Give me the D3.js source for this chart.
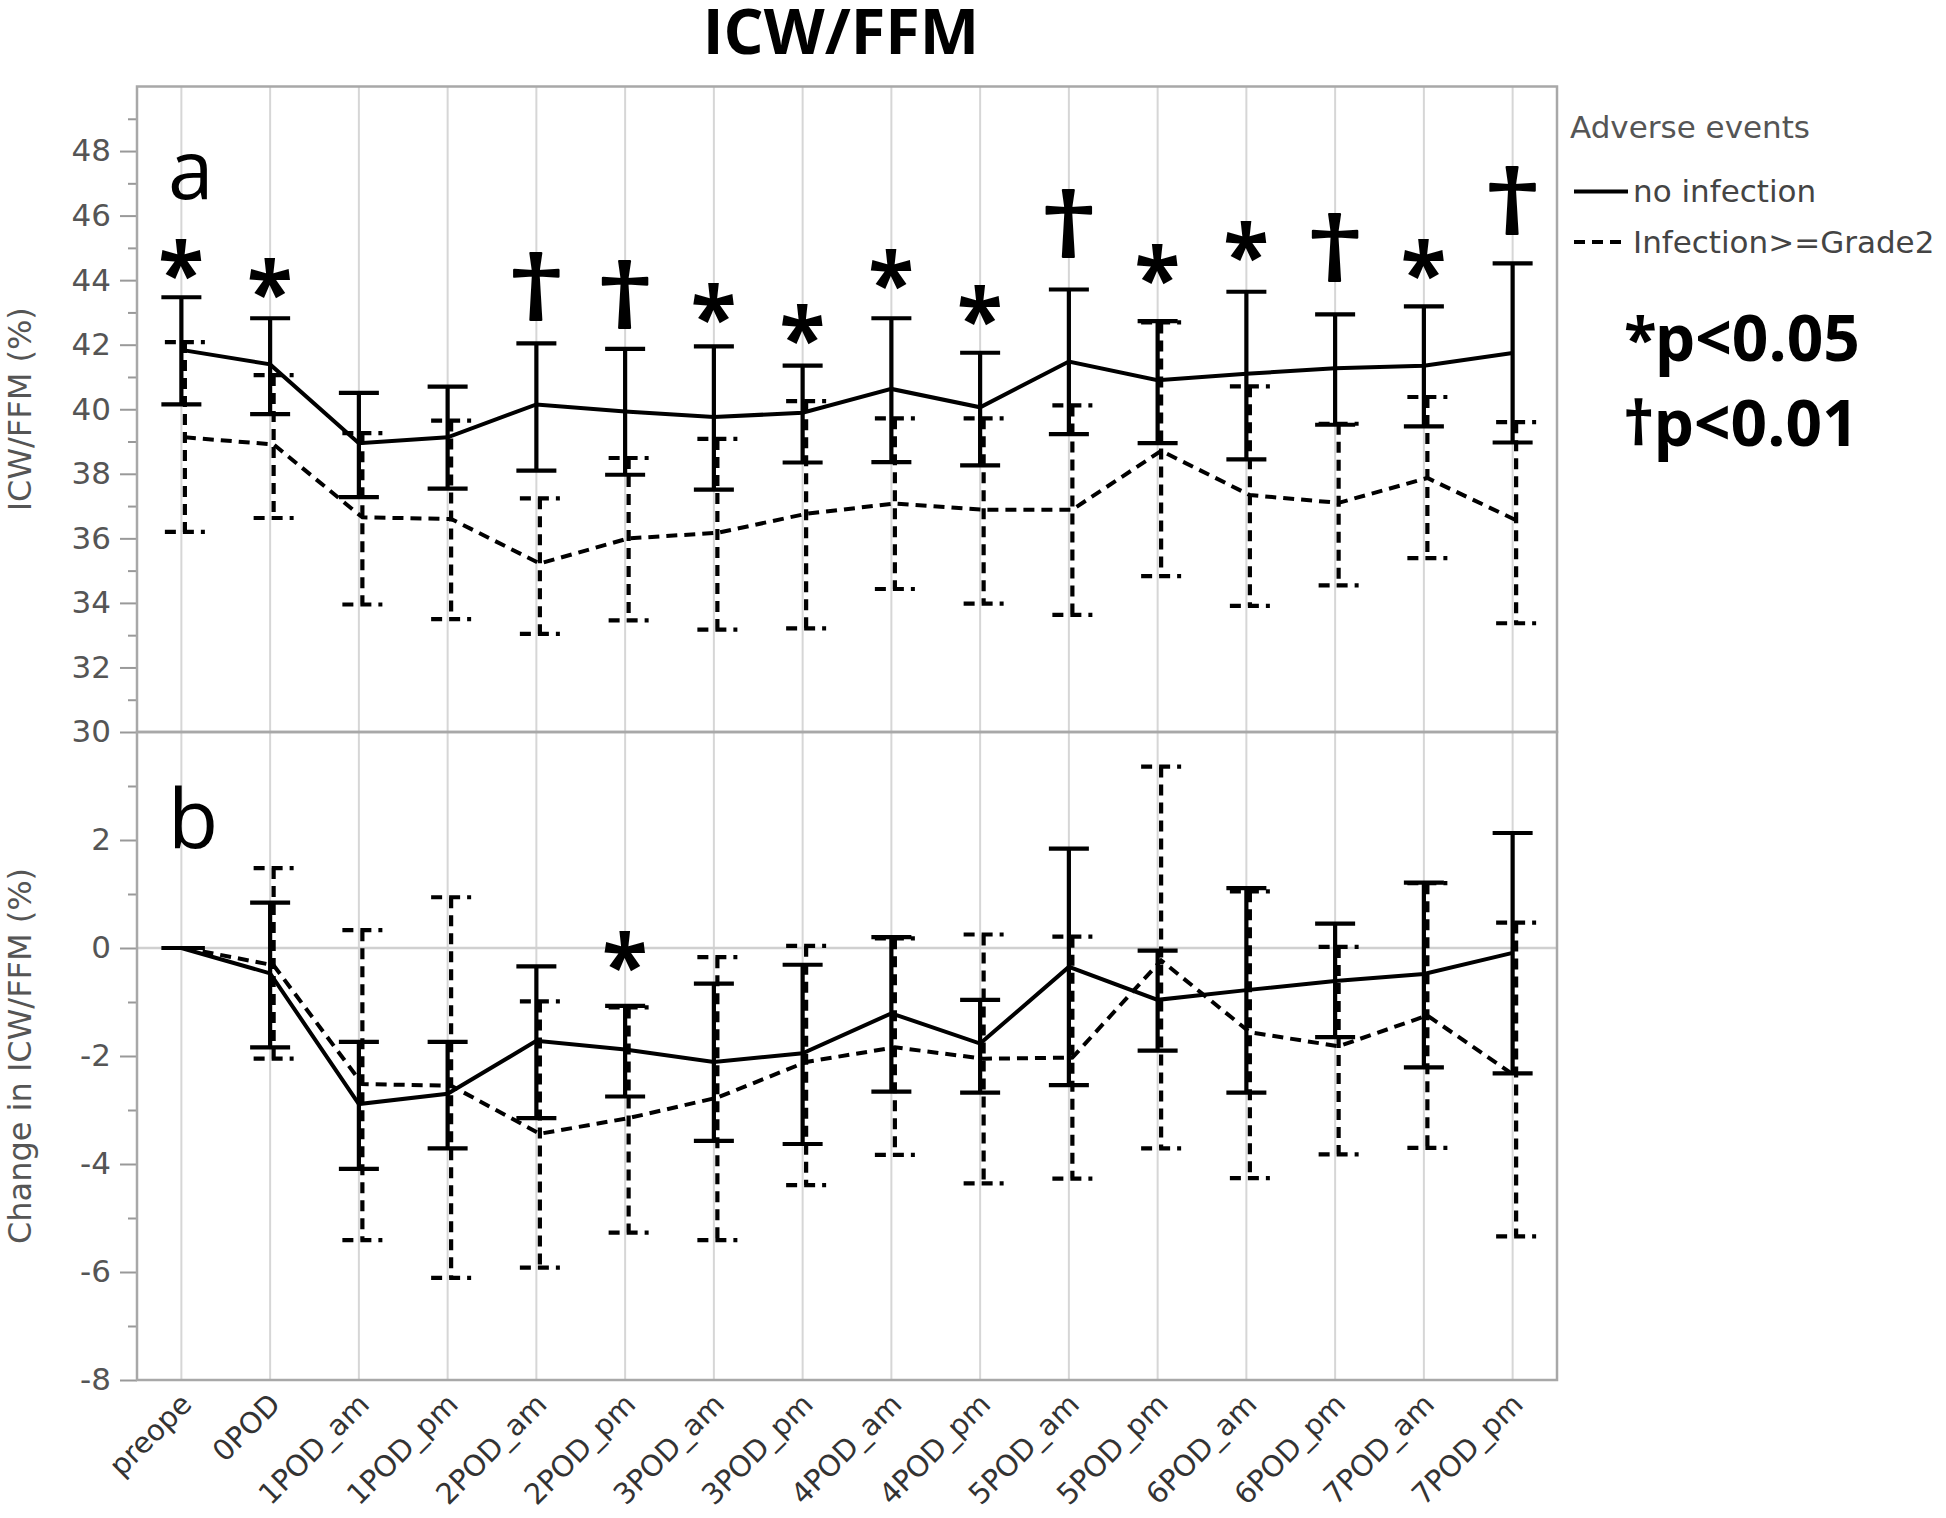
<!DOCTYPE html>
<html><head><meta charset="utf-8">
<script src="https://cdnjs.cloudflare.com/ajax/libs/d3/7.8.5/d3.min.js"></script>
<style>body{margin:0;background:#fff;} svg{display:block;}</style>
</head><body>
<svg id="chart" width="1946" height="1518"></svg>
<script>
// ---------- DATA ----------
const categories = ["preope","0POD","1POD_am","1POD_pm","2POD_am","2POD_pm","3POD_am","3POD_pm",
                    "4POD_am","4POD_pm","5POD_am","5POD_pm","6POD_am","6POD_pm","7POD_am","7POD_pm"];
const seriesNames = ["no infection","Infection>=Grade2"];

// Panel a: ICW/FFM (%)
const aNoInfMean = [41.84,41.39,38.95,39.13,40.15,39.93,39.76,39.89,40.63,40.06,41.48,40.90,41.10,41.27,41.35,41.74];
const aNoInfHigh = [43.47,42.82,40.51,40.70,42.04,41.87,41.95,41.35,42.82,41.75,43.71,42.73,43.64,42.94,43.19,44.52];
const aNoInfLow  = [40.15,39.85,37.28,37.54,38.10,37.97,37.51,38.35,38.36,38.26,39.23,38.95,38.45,39.52,39.47,38.97];
const aInfMean   = [39.13,38.91,36.65,36.60,35.22,36.00,36.17,36.76,37.08,36.89,36.89,38.71,37.34,37.10,37.87,36.56];
const aInfHigh   = [42.08,41.06,39.26,39.65,37.24,38.49,39.08,40.25,39.72,39.72,40.12,42.69,40.71,39.55,40.38,39.60];
const aInfLow    = [36.20,36.63,33.95,33.50,33.04,33.46,33.17,33.21,34.43,33.98,33.63,34.83,33.91,34.54,35.39,33.37];

// Panel b: Change in ICW/FFM (%)
const bNoInfMean = [0,-0.47,-2.89,-2.70,-1.72,-1.88,-2.11,-1.95,-1.21,-1.77,-0.35,-0.96,-0.78,-0.61,-0.48,-0.09];
const bNoInfHigh = [0, 0.84,-1.74,-1.74,-0.34,-1.07,-0.66,-0.31, 0.20,-0.96, 1.84,-0.05, 1.11, 0.45, 1.21, 2.13];
const bNoInfLow  = [0,-1.84,-4.09,-3.71,-3.15,-2.75,-3.57,-3.63,-2.66,-2.68,-2.54,-1.90,-2.68,-1.65,-2.21,-2.32];
const bInfMean   = [0,-0.32,-2.52,-2.55,-3.44,-3.15,-2.77,-2.11,-1.84,-2.05,-2.03,-0.23,-1.56,-1.82,-1.25,-2.38];
const bInfHigh   = [0, 1.48, 0.33, 0.94,-0.99,-1.10,-0.17, 0.04, 0.18, 0.25, 0.21, 3.36, 1.05, 0.02, 1.20, 0.47];
const bInfLow    = [0,-2.05,-5.41,-6.11,-5.92,-5.27,-5.41,-4.39,-3.83,-4.36,-4.27,-3.71,-4.26,-3.82,-3.70,-5.34];

// significance marks (symbol, value at the bottom of the mark)
const aSigMark = ["*","*","","","†","†","*","*","*","*","†","*","*","†","*","†"];
const aSigPos  = [44.0,43.42,null,null,42.77,42.52,42.64,41.99,43.68,42.58,44.72,43.85,44.56,43.97,44.0,45.44];
const bSigMark = ["","","","","","*","","","","","","","","","",""];
const bSigPos  = [null,null,null,null,null,-0.45,null,null,null,null,null,null,null,null,null,null];
const pLegend  = [["*","p<0.05"],["†","p<0.01"]];

const aTicks = [30,32,34,36,38,40,42,44,46,48];
const aMinor = [31,33,35,37,39,41,43,45,47,49];
const bTicks = [-8,-6,-4,-2,0,2];
const bMinor = [-7,-5,-3,-1,1,3];

// ---------- LAYOUT ----------
const svg = d3.select("#chart");
const L = 137, R = 1557;
const aTop = 86.5, mid = 732, bBot = 1380;
const grey = "#555";
const x = d3.scalePoint().domain(categories).range([L, R]).padding(0.5);
const yA = d3.scaleLinear().domain([30, 50]).range([mid, aTop]);
const yB = d3.scaleLinear().domain([-8, 4]).range([bBot, mid]);

// glyph ink measurement (canvas) to place symbols by their ink box
const ctx = document.createElement("canvas").getContext("2d");
function ink(ch, font) {
  ctx.font = `${font.weight} 100px "${font.family}"`;
  const m = ctx.measureText(ch);
  return { w: m.actualBoundingBoxLeft + m.actualBoundingBoxRight, left: m.actualBoundingBoxLeft,
           h: m.actualBoundingBoxAscent + m.actualBoundingBoxDescent, asc: m.actualBoundingBoxAscent };
}
function glyph(parent, ch, font, cx, bottom, w, h, sw) {
  const m = ink(ch, font);
  const sx = w / m.w, sy = h / m.h;
  const tx = cx - w / 2 + m.left * sx, ty = bottom - h + m.asc * sy;
  parent.append("text").attr("transform", `translate(${tx},${ty}) scale(${sx},${sy})`)
    .style("font-family", font.family).style("font-weight", font.weight).style("font-size", "100px")
    .attr("fill", "#000").attr("stroke", sw ? "#000" : null).attr("stroke-width", sw ? sw / sx : null)
    .attr("stroke-linejoin", "round")
    .text(ch);
}
const STAR_FONT = { family: "Open Sans", weight: 700 };
const DAG_FONT = { family: "Open Sans", weight: 400 };

// gridlines
svg.append("g").selectAll("line").data(categories).join("line")
  .attr("x1", d => x(d)).attr("x2", d => x(d)).attr("y1", aTop).attr("y2", bBot)
  .attr("stroke", "#d6d6d6").attr("stroke-width", 2);
svg.append("line").attr("x1", L).attr("x2", R).attr("y1", yB(0)).attr("y2", yB(0))
  .attr("stroke", "#d0d0d0").attr("stroke-width", 2.5);

// axes
const fmt = d => (d < 0 ? "-" + Math.abs(d) : String(d));
function yAxis(scale, ticks, minor) {
  const g = svg.append("g").attr("transform", `translate(${L},0)`);
  g.call(d3.axisLeft(scale).tickValues(ticks).tickSize(17).tickPadding(9).tickFormat(fmt));
  g.select(".domain").remove();
  g.selectAll(".tick line").attr("stroke", "#999").attr("stroke-width", 2);
  g.selectAll(".tick text").attr("fill", grey).style("font-family", "DejaVu Sans").style("font-size", "31px");
  const gm = svg.append("g").attr("transform", `translate(${L},0)`);
  gm.call(d3.axisLeft(scale).tickValues(minor).tickSize(9).tickFormat(""));
  gm.select(".domain").remove();
  gm.selectAll(".tick line").attr("stroke", "#999").attr("stroke-width", 2);
}
yAxis(yA, aTicks, aMinor);
yAxis(yB, bTicks, bMinor);

// frames
svg.append("rect").attr("x", L).attr("y", aTop).attr("width", R - L).attr("height", mid - aTop)
  .attr("fill", "none").attr("stroke", "#a8a8a8").attr("stroke-width", 2.5);
svg.append("rect").attr("x", L).attr("y", mid).attr("width", R - L).attr("height", bBot - mid)
  .attr("fill", "none").attr("stroke", "#a8a8a8").attr("stroke-width", 2.5);

// series drawing
const DASH = "11,7";
function drawSeries(y, mean, low, high, dashed) {
  const off = dashed ? 3.5 : 0;
  const hw = 20;
  const g = svg.append("g");
  const style = sel => sel.attr("fill", "none").attr("stroke", "#000")
    .attr("stroke-dasharray", dashed ? DASH : null);
  g.selectAll("path.eb").data(categories).join("path").attr("class", "eb")
    .attr("d", (c, i) => {
      const cx = x(c) + off, yh = y(high[i]), yl = y(low[i]);
      return `M${cx - hw},${yh}H${cx + hw}M${cx},${yh}V${yl}M${cx - hw},${yl}H${cx + hw}`;
    })
    .call(style).attr("stroke-width", 4.2);
  const line = d3.line().x((d, i) => x(categories[i]) + off).y(d => y(d));
  g.append("path").datum(mean).attr("d", line).call(style).attr("stroke-width", 4);
}
drawSeries(yA, aInfMean, aInfLow, aInfHigh, true);
drawSeries(yA, aNoInfMean, aNoInfLow, aNoInfHigh, false);
drawSeries(yB, bInfMean, bInfLow, bInfHigh, true);
drawSeries(yB, bNoInfMean, bNoInfLow, bNoInfHigh, false);

// significance marks
function drawMarks(y, marks, pos) {
  const g = svg.append("g");
  categories.forEach((c, i) => {
    if (!marks[i]) return;
    if (marks[i] === "*") glyph(g, "*", STAR_FONT, x(c), y(pos[i]), 41, 41, 0);
    else glyph(g, "†", DAG_FONT, x(c), y(pos[i]), 45, 68, 2.5);
  });
}
drawMarks(yA, aSigMark, aSigPos);
drawMarks(yB, bSigMark, bSigPos);

// panel letters
svg.append("text").attr("x", 168).attr("y", 199).text("a")
  .style("font-family", "Open Sans").style("font-size", "82px").attr("fill", "#000");
svg.append("text").attr("x", 168).attr("y", 848).text("b")
  .style("font-family", "Open Sans").style("font-size", "82px").attr("fill", "#000");

// x labels
svg.append("g").selectAll("text").data(categories).join("text")
  .attr("transform", d => `translate(${x(d) + 12},${bBot + 26}) rotate(-45)`)
  .attr("text-anchor", "end").attr("fill", "#333")
  .style("font-family", "DejaVu Sans").style("font-size", "29px").text(d => d);

// y titles
svg.append("text").attr("transform", `translate(31,${(aTop + mid) / 2}) rotate(-90)`)
  .attr("text-anchor", "middle").attr("fill", grey)
  .style("font-family", "DejaVu Sans").style("font-size", "32px").text("ICW/FFM (%)");
svg.append("text").attr("transform", `translate(31,${(mid + bBot) / 2}) rotate(-90)`)
  .attr("text-anchor", "middle").attr("fill", grey)
  .style("font-family", "DejaVu Sans").style("font-size", "32px").text("Change in ICW/FFM (%)");

// title
svg.append("text").attr("x", 841).attr("y", 54).attr("text-anchor", "middle")
  .style("font-family", "Open Sans").style("font-weight", 700).style("font-size", "63px").text("ICW/FFM");

// legend
const lg = svg.append("g");
lg.append("text").attr("x", 1570).attr("y", 138).attr("fill", grey)
  .style("font-family", "DejaVu Sans").style("font-size", "31px").text("Adverse events");
seriesNames.forEach((n, i) => {
  const yy = 191.5 + i * 50.5;
  lg.append("line").attr("x1", 1574).attr("x2", 1628).attr("y1", yy).attr("y2", yy)
    .attr("stroke", "#000").attr("stroke-width", 4).attr("stroke-dasharray", i ? DASH : null);
  lg.append("text").attr("x", 1633).attr("y", yy + 10.5).attr("fill", "#444")
    .style("font-family", "DejaVu Sans").style("font-size", "31px").text(n);
});

// p-value legend (symbol as a tspan in the same text)
const pv = svg.append("g");
pLegend.forEach(([sym, txt], i) => {
  const base = 361 + i * 85;
  const t = pv.append("text").attr("x", 1624).attr("y", base)
    .style("font-family", "Open Sans").style("font-weight", 700).style("font-size", "64px").attr("fill", "#000");
  if (sym === "*") {
    t.append("tspan").style("font-size", "60px").text("*");
    t.append("tspan").attr("dx", -2).text(txt);
  } else {
    t.append("tspan").style("font-size", "58px").style("font-weight", 400).attr("dy", -2)
      .attr("stroke", "#000").attr("stroke-width", 2.5).text("†");
    t.append("tspan").attr("dy", 2).text(txt);
  }
});
</script>
</body></html>
